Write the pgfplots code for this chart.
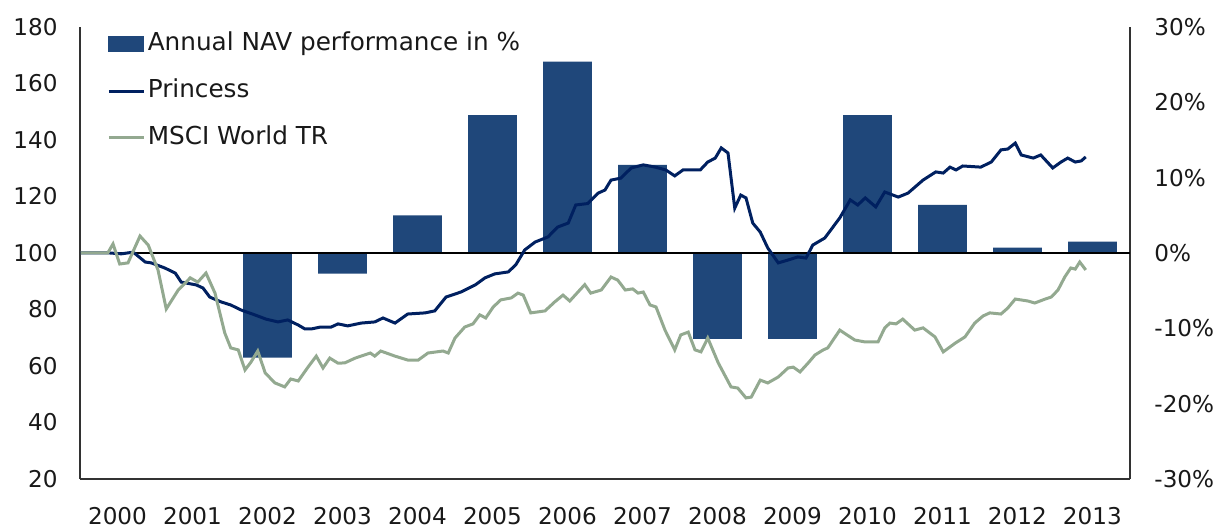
\documentclass[border=0pt]{standalone}
\usepackage{pgfplots}
\pgfplotsset{compat=1.18}
\usepackage{fontspec}
\setmainfont{DejaVu Sans}
\usetikzlibrary{calc}
\definecolor{barblue}{RGB}{31,71,122}
\definecolor{princess}{RGB}{0,32,96}
\definecolor{msci}{RGB}{147,169,144}
\definecolor{axgray}{RGB}{50,50,50}
\newcommand{\lblfont}{\fontsize{11.6}{14}\selectfont}
\newcommand{\legfont}{\fontsize{12.4}{14}\selectfont}
\begin{document}
\begin{tikzpicture}
% ---------- bars, right axis ----------
\begin{axis}[
  scale only axis, width=525bp, height=226bp,
  xmin=1999.5, xmax=2013.5,
  ymin=-30, ymax=30,
  axis x line=none,
  axis y line*=right,
  axis line style={-, axgray, line width=1bp},
  ytick={-30,-20,-10,0,10,20,30},
  yticklabels={-30\%,-20\%,-10\%,0\%,10\%,20\%,30\%},
  yticklabel style={font=\lblfont, text=black!90, xshift=8.7bp},
  major tick length=0pt,
  ybar, bar width=0.65, bar shift=0pt,
]
\addplot[fill=barblue, draw=none] coordinates {
 (2002,-13.9) (2003,-2.75) (2004,5.0) (2005,18.3) (2006,25.4) (2007,11.7)
 (2008,-11.4) (2009,-11.4) (2010,18.3) (2011,6.4) (2012,0.7) (2013,1.5)
};
\end{axis}
% ---------- lines, left axis ----------
\begin{axis}[
  scale only axis, width=525bp, height=226bp,
  xmin=1999.5, xmax=2013.5,
  ymin=20, ymax=180,
  axis x line*=bottom,
  axis y line*=left,
  axis line style={-, axgray, line width=1bp},
  xtick={2000,...,2013},
  xticklabels={2000,2001,2002,2003,2004,2005,2006,2007,2008,2009,2010,2011,2012,2013},
  xticklabel style={font=\lblfont, text=black!90, yshift=-10.7bp},
  ytick={20,40,...,180},
  yticklabels={20,40,60,80,100,120,140,160,180},
  yticklabel style={font=\lblfont, text=black!90, xshift=-7.7bp},
  major tick length=0pt,
  legend cell align=left,
  legend style={draw=none, fill=none, font=\legfont, text=black!90, inner sep=0pt,
    at={(axis description cs:0,1)}, anchor=north west, xshift=13.5bp, yshift=-1.5bp,
    row sep=9.5bp,
    nodes={text height=9bp, text depth=2.5bp, inner sep=1.2bp}},
]
\coordinate (ll) at (rel axis cs:0,0);
\coordinate (ur) at (rel axis cs:1,1);
\addlegendimage{legend image code/.code={\fill[barblue] (0bp,-3.75bp) rectangle (17.5bp,3.75bp);}}
\addlegendentry{Annual NAV performance in \%}
\addplot[black, line width=1bp, forget plot] coordinates {(1999.5,100) (2013.5,100)};
\addplot[princess, line width=1.5bp, legend image code/.code={\draw[princess, line width=1.5bp] (0bp,0bp) -- (17.5bp,0bp);}] coordinates {
(1999.51,100) (1999.90,100) (2000.05,99.7) (2000.21,100.3) (2000.37,96.8) (2000.45,96.5)
(2000.63,94.7) (2000.77,92.9) (2000.85,89.7) (2001.05,88.7) (2001.14,87.6) (2001.23,84.4)
(2001.38,82.7) (2001.51,81.6) (2001.65,79.8) (2001.83,78.1) (2001.98,76.6) (2002.14,75.6)
(2002.27,76.3) (2002.41,74.5) (2002.50,73.1) (2002.58,73.1) (2002.71,73.8) (2002.85,73.8)
(2002.94,74.9) (2003.07,74.2) (2003.25,75.2) (2003.43,75.6) (2003.54,77.0) (2003.70,75.2)
(2003.87,78.4) (2004.10,78.8) (2004.23,79.5) (2004.38,84.4) (2004.58,86.2) (2004.77,88.7)
(2004.90,91.2) (2005.03,92.6) (2005.21,93.3) (2005.31,95.8) (2005.43,101.1) (2005.57,103.9)
(2005.74,105.7) (2005.87,109.2) (2006.01,110.6) (2006.11,117.0) (2006.27,117.5) (2006.41,121.2)
(2006.50,122.3) (2006.58,125.8) (2006.71,126.5) (2006.85,130.1) (2007.01,131.2) (2007.17,130.4)
(2007.31,129.4) (2007.43,127.3) (2007.54,129.4) (2007.77,129.4) (2007.87,132.2) (2007.97,133.6)
(2008.05,137.2) (2008.14,135.4) (2008.23,115.9) (2008.31,120.5) (2008.38,119.5) (2008.47,110.6)
(2008.57,107.4) (2008.67,101.8) (2008.81,96.5) (2008.94,97.5) (2009.07,98.6) (2009.18,98.2)
(2009.27,102.8) (2009.43,105.3) (2009.63,112.4) (2009.77,118.8) (2009.87,117.0) (2009.97,119.5)
(2010.11,116.3) (2010.23,121.6) (2010.41,119.8) (2010.54,121.2) (2010.74,125.8) (2010.91,128.7)
(2011.01,128.3) (2011.10,130.4) (2011.18,129.4) (2011.27,130.8) (2011.51,130.4) (2011.65,132.2)
(2011.78,136.5) (2011.87,136.8) (2011.97,138.9) (2012.05,134.7) (2012.21,133.6) (2012.31,134.7)
(2012.47,130.1) (2012.58,132.2) (2012.67,133.6) (2012.77,132.2) (2012.85,132.6) (2012.91,134.0)
};
\addlegendentry{Princess}
\addplot[msci, line width=1.5bp, legend image code/.code={\draw[msci, line width=1.5bp] (0bp,0bp) -- (17.5bp,0bp);}] coordinates {
(1999.51,100) (1999.87,100) (1999.94,103.2) (2000.03,96.1) (2000.14,96.5) (2000.30,106.0)
(2000.41,102.8) (2000.54,94.0) (2000.65,80.2) (2000.81,86.9) (2000.97,91.2) (2001.07,89.7)
(2001.18,92.9) (2001.30,85.8) (2001.43,71.7) (2001.51,66.4) (2001.61,65.7) (2001.70,58.6)
(2001.78,61.4) (2001.87,65.3) (2001.97,57.5) (2002.10,54.0) (2002.23,52.6) (2002.31,55.4)
(2002.41,54.7) (2002.54,59.6) (2002.65,63.5) (2002.74,59.3) (2002.83,62.8) (2002.94,61.0)
(2003.03,61.1) (2003.17,62.8) (2003.37,64.6) (2003.43,63.5) (2003.51,65.3) (2003.70,63.5)
(2003.87,62.1) (2004.01,62.1) (2004.14,64.6) (2004.34,65.3) (2004.41,64.6) (2004.50,69.9)
(2004.63,73.8) (2004.74,74.9) (2004.83,78.1) (2004.91,77.0) (2005.01,80.9) (2005.11,83.4)
(2005.25,84.1) (2005.34,85.8) (2005.41,85.1) (2005.51,78.8) (2005.70,79.5) (2005.83,82.7)
(2005.94,85.1) (2006.03,83.0) (2006.14,86.2) (2006.23,88.8) (2006.31,85.8) (2006.45,86.9)
(2006.58,91.5) (2006.67,90.4) (2006.77,86.9) (2006.87,87.3) (2006.94,85.8) (2007.01,86.2)
(2007.10,81.6) (2007.18,80.9) (2007.30,72.7) (2007.43,65.7) (2007.51,71.0) (2007.61,72.0)
(2007.70,65.7) (2007.78,65.0) (2007.87,69.9) (2008.01,61.1) (2008.18,52.6) (2008.27,52.2)
(2008.38,48.7) (2008.45,49.0) (2008.57,55.0) (2008.67,54.0) (2008.81,56.1) (2008.94,59.3)
(2009.01,59.6) (2009.10,57.9) (2009.21,61.1) (2009.30,63.9) (2009.41,65.7) (2009.47,66.4)
(2009.63,72.7) (2009.83,69.2) (2009.97,68.5) (2010.14,68.5) (2010.23,73.5) (2010.30,75.2)
(2010.38,74.9) (2010.47,76.6) (2010.63,72.7) (2010.74,73.5) (2010.90,70.3) (2011.01,65.0)
(2011.17,68.1) (2011.30,70.3) (2011.43,75.2) (2011.54,77.7) (2011.63,78.8) (2011.78,78.4)
(2011.87,80.5) (2011.97,83.7) (2012.14,83.0) (2012.23,82.3) (2012.37,83.7) (2012.45,84.4)
(2012.54,86.9) (2012.63,91.5) (2012.71,94.7) (2012.77,94.3) (2012.83,96.8) (2012.91,94.0)
};
\addlegendentry{MSCI World TR}
\end{axis}
\pgfresetboundingbox
\path ($(ll)+(-40bp,-25bp)$) rectangle ($(ur)+(46.5bp,13.5bp)$);
\end{tikzpicture}
\end{document}
